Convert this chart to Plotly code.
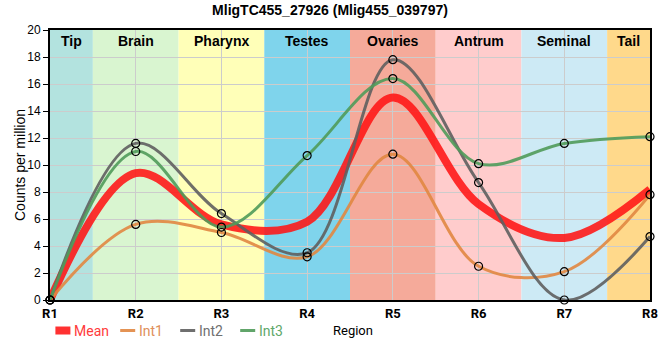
import plotly.graph_objects as go

categories = ["R1", "R2", "R3", "R4", "R5", "R6", "R7", "R8"]
mean_vals = [0, 9.4, 5.6, 5.8, 15.0, 7.1, 4.6, 8.2]
int1_vals = [0, 5.6, 5.0, 3.2, 10.8, 2.5, 2.1, 7.8]
int2_vals = [0, 11.6, 6.4, 3.5, 17.8, 8.7, 0, 4.7]
int3_vals = [0, 11.0, 5.4, 10.7, 16.4, 10.1, 11.6, 12.1]

region_names = ["Tip", "Brain", "Pharynx", "Testes", "Ovaries", "Antrum", "Seminal", "Tail"]
region_starts = [1, 1.5, 2.5, 3.5, 4.5, 5.5, 6.5, 7.5]
region_ends = [1.5, 2.5, 3.5, 4.5, 5.5, 6.5, 7.5, 8]
region_colors = ["#b3e3df", "#d9f5d0", "#ffffb8", "#7fd4ec", "#f5aa9a", "#ffcccc", "#cdeaf5", "#ffd98b"]

xs = list(range(1, len(categories) + 1))

fig = go.Figure()

series = [
    ("Mean", mean_vals, "rgba(255,20,20,0.88)", 8, False),
    ("Int1", int1_vals, "rgba(225,135,65,0.9)", 3, True),
    ("Int2", int2_vals, "rgba(95,95,95,0.9)", 3, True),
    ("Int3", int3_vals, "rgba(80,155,90,0.9)", 3, True),
]
legend_text_colors = {"Mean": "#ff3b3b", "Int1": "#e0905a", "Int2": "#707070", "Int3": "#5fa86a"}

for name, vals, color, width, markers in series:
    fig.add_trace(go.Scatter(
        x=xs, y=vals, mode="lines", name=name, showlegend=False,
        line=dict(color=color, width=width, shape="spline", smoothing=1.0),
    ))

for name, vals, color, width, markers in series:
    if markers:
        fig.add_trace(go.Scatter(
            x=xs, y=vals, mode="markers", showlegend=False,
            marker=dict(symbol="circle", size=8, color="rgba(0,0,0,0)",
                        line=dict(color="black", width=1.2)),
            cliponaxis=False,
        ))

for s, e, c in zip(region_starts, region_ends, region_colors):
    fig.add_shape(type="rect", xref="x", yref="y", x0=s, x1=e, y0=0, y1=20,
                  fillcolor=c, line_width=0, layer="below")

for s, e, n in zip(region_starts, region_ends, region_names):
    fig.add_annotation(x=(s + e) / 2, y=20, xref="x", yref="y", text=f"<b>{n}</b>",
                       showarrow=False, yanchor="top", yshift=-1,
                       font=dict(family="Liberation Sans, Arial", size=14, color="black"))

# y-axis title as annotation
fig.add_annotation(x=-0.05, y=0.5, xref="paper", yref="paper", text="Counts per million",
                   textangle=-90, showarrow=False, xanchor="center", yanchor="middle",
                   font=dict(family="Liberation Sans, Arial", size=14, color="black"))

# custom legend (paper coordinates)
legend_y = -0.113
legend_items = [
    ("Mean", 0.009, 0.034, 8),
    ("Int1", 0.117, 0.142, 3),
    ("Int2", 0.217, 0.242, 3),
    ("Int3", 0.317, 0.342, 3),
]
series_colors = {n: c for n, v, c, w, m in series}
for name, x0, x1, w in legend_items:
    fig.add_shape(type="line", xref="paper", yref="paper", x0=x0, x1=x1,
                  y0=legend_y, y1=legend_y, line=dict(color=series_colors[name], width=w))
    fig.add_annotation(x=x1 + 0.005, y=legend_y, xref="paper", yref="paper", text=name,
                       showarrow=False, xanchor="left", yanchor="middle", borderpad=0,
                       font=dict(family="Roboto, Arial", size=14, color=legend_text_colors[name]))

fig.add_annotation(x=0.47, y=legend_y, xref="paper", yref="paper", text="Region",
                   showarrow=False, xanchor="left", yanchor="middle", borderpad=0,
                   font=dict(family="Roboto, Arial", size=13, color="black"))

fig.update_layout(
    width=660, height=360,
    margin=dict(l=50, r=10, t=30, b=60, autoexpand=False),
    paper_bgcolor="white", plot_bgcolor="white",
    showlegend=False,
    title=dict(text="<b>MligTC455_27926 (Mlig455_039797)</b>", x=0.5, xanchor="center",
               y=0.985, yanchor="top",
               font=dict(family="Liberation Sans, Arial", size=14, color="black")),
    xaxis=dict(range=[1, 8], tickmode="array", tickvals=xs,
               ticktext=[f"<b>{c}</b>" for c in categories], automargin=False,
               showgrid=True, gridcolor="#cccccc", gridwidth=1, layer="above traces",
               showline=True, linecolor="black", linewidth=2, mirror=True,
               ticks="", zeroline=False,
               tickfont=dict(family="Roboto, Arial", size=13, color="black")),
    yaxis=dict(range=[0, 20], tick0=0, dtick=2, automargin=False,
               showgrid=True, gridcolor="#cccccc", gridwidth=1,
               showline=True, linecolor="black", linewidth=2, mirror=True,
               ticks="outside", ticklen=5, tickcolor="black", zeroline=False,
               tickfont=dict(family="Liberation Sans, Arial", size=12, color="black")),
)

fig.write_html("out.html", config={"displayModeBar": False},
               post_script="document.body.style.margin='0';")
